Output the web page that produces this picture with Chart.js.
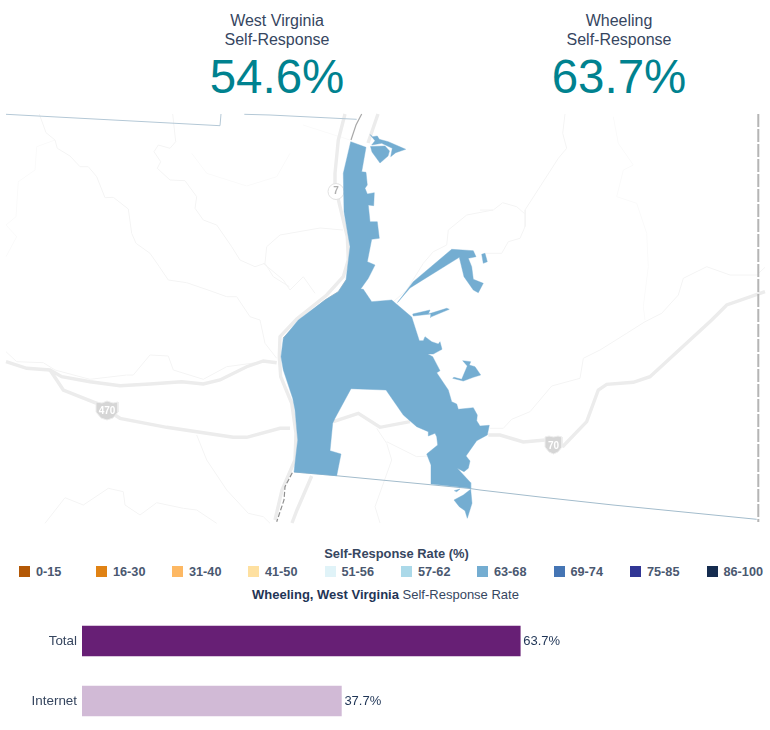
<!DOCTYPE html>
<html>
<head>
<meta charset="utf-8">
<title>Wheeling Self-Response</title>
<script src="https://cdn.jsdelivr.net/npm/chart.js@4"></script>
<style>
    html, body { margin: 0; padding: 0; background: #fff; overflow: hidden; }
    body { width: 770px; height: 730px; position: relative; font-family: "Liberation Sans", Arial, sans-serif; color: #36465f; }
    canvas { position: absolute; left: 0; display: block; }
    .stat { position: absolute; top: 11px; width: 300px; text-align: center; font-size: 16px; line-height: 19px; }
    .stat b { display: block; font-weight: 400; font-size: 47.5px; line-height: 56px; color: #00828f; }
    #legendTitle { position: absolute; top: 546px; left: 0; width: 793px; text-align: center; font-size: 12.9px; font-weight: 700; color: #36465f; }
    #legend { position: absolute; top: 565px; left: 0; width: 770px; height: 16px; }
    .key { position: absolute; top: 0; font-size: 12.7px; font-weight: 700; line-height: 14px; color: #4a5870; white-space: nowrap; }
    .key i { position: absolute; left: -17px; top: 1px; width: 11px; height: 11px; }
    #barTitle { position: absolute; top: 587px; left: 0; width: 771px; text-align: center; font-size: 13px; color: #36465f; }
    #barTitle b { color: #1f3556; }
</style>
</head>
<body>
<div class="stat" style="left:127px">West Virginia<br>Self-Response<b>54.6%</b></div>
<div class="stat" style="left:469px">Wheeling<br>Self-Response<b>63.7%</b></div>
<canvas id="mapChart" width="770" height="412" style="top:113px"></canvas>
<div id="legendTitle">Self-Response Rate (%)</div>
<div id="legend"></div>
<div id="barTitle"><b>Wheeling, West Virginia</b> Self-Response Rate</div>
<canvas id="barChart" width="770" height="120" style="top:611px"></canvas>
<script>
// ── BAR DATA ──
const barLabels = ['Total', 'Internet'];
const barValues = [63.7, 37.7];
const barColors = ['#671f75', '#d1bad6'];

// ── LEGEND DATA ──
const legendLabels = ['0-15', '16-30', '31-40', '41-50', '51-56', '57-62', '63-68', '69-74', '75-85', '86-100'];
const legendColors = ['#b35806', '#e08214', '#fdb863', '#fee0a0', '#e0f3f8', '#abd9e9', '#74add1', '#4575b4', '#313695', '#152c4f'];
const legendLefts = [36, 113, 189, 265, 341.5, 418, 494, 570.5, 647, 723.5];

// ── MAP DATA (projected map units) ──
const cityMain = [[350.7,141.7],[366,147.3],[361.7,171.7],[366,172.3],[367.3,185],[365,188.3],[367.3,194],[374.3,192.7],[373.7,205.7],[368.3,205],[370,221.7],[377.3,221.7],[379.3,238.3],[371.7,239.3],[367.3,261.7],[375,265],[368.3,278.3],[360.7,289],[363.3,289.3],[371.7,301.7],[391.7,300],[411.7,317],[419.3,340.7],[423.3,340.7],[425,336.7],[431.7,341.7],[438.3,344],[440,341.7],[442,349.3],[433.3,354],[427.7,354],[432.7,356.7],[440,370.7],[436.7,372.7],[448.3,390],[451.7,401.7],[456.7,404],[458.3,409.3],[473.3,407.7],[477.3,415],[476.7,420.7],[480,426],[489.3,425.3],[487.3,435],[476.7,440.7],[466,456],[470,461],[468.3,468.3],[464,471.7],[457.3,468.3],[470.7,482.7],[470.7,488.3],[431.7,484],[431,465],[426.7,454],[437.7,445],[436.7,436.7],[435,433.3],[428.3,436],[428.3,431.7],[416.7,426.7],[403.3,415],[386,390],[351,388.7],[335,418.3],[332.7,423.3],[330,450.7],[341,454],[336.7,475.7],[294,472],[297.7,440],[295,410],[292.7,398.3],[283.3,370],[281,356.7],[283.3,338.3],[298.3,320],[325,300],[338.3,291.7],[346,280],[350,246.7],[348.3,236.7],[344,211.7],[343.3,173.3]];
const cityNorthSliver = [[370,134.5],[372.7,136.7],[377.3,136],[379.3,139.3],[388.3,141.7],[405.7,149.3],[395.7,152.7],[390.7,156.7],[392.3,148.3],[381.7,143.3],[371.7,145],[375,140.7]];
const cityNorthBlob = [[370.5,146.5],[385,146],[389.5,151],[388,156],[380,163],[372,152]];
const cityBranch = [[397.5,302.5],[413.3,281.7],[451.7,249.3],[473.3,250.7],[476,256.7],[468.3,258.3],[471.7,266.7],[473.3,279.3],[483.3,283.3],[478.3,292.7],[473.3,290],[464,276.7],[459.3,257.3],[420,281.7],[410,288]];
const cityDot = [[481.7,254.3],[485,253.3],[487.3,261.7],[483.3,263.3]];
const citySliver = [[412.7,314],[430,310],[428.3,314],[446.7,308.3],[449.3,309.3],[430,317.3],[430.7,314],[413.3,316]];
const cityEastLobe = [[462.7,360.7],[470.7,361.7],[469.3,365],[475,366.7],[480.7,375],[473.3,377.3],[463.3,381],[452.7,378.3],[454,377.3],[461.7,379.3],[467.3,366]];
const citySouth = [[470.7,489.3],[472,503.3],[467.3,518.3],[465,510.7],[459.3,506.7],[454,500],[463.3,495]];
const citySouthTip = [[454.3,490.7],[460,489],[456.7,491.7]];
const cityParts = [cityMain, cityNorthSliver, cityNorthBlob, cityBranch, cityDot, citySliver, cityEastLobe, citySouth, citySouthTip];

const stateTop = [[6,114.3],[220,125.7],[221,114]];
const stateTopRight = [[244.3,114.3],[270,115],[356.7,119.3]];
const stateBottom = [[294,472],[336,475.7],[470,488.5],[480,490],[540,497],[613,505],[756.7,519.3]];
const stateEast = [[758.3,114],[758.3,522]];
const riverNorth = [[361.7,114],[356,125],[351,140]];
const riverMid = [[346,280],[338.3,291.7],[325,300],[301.7,319],[283,338]];
const riverSouth = [[292.3,472.7],[285,486.7],[284,500],[276.7,521.7]];

const route7 = [[345,114],[338.3,140],[335,173.3],[335,185],[340,206.7],[347.3,236.7],[348.3,260],[343.3,276.7],[326.7,295],[296.7,319],[280,336.7],[279.3,356.7],[280.7,376.7],[291.7,403.3],[296,433.3],[295,460],[282,490],[275,520]];
const routeSouth = [[311.7,476],[297,510],[292,523]];
const routeNorth = [[378,114],[368,143]];
const us40 = [[6,361.7],[26.7,368.3],[50,370],[61.7,376.7],[90,381.7],[120,385.7],[150,384],[181.7,381.7],[203.3,384],[220,380],[246.7,366.7],[263.3,361],[276.7,362.7]];
const i470 = [[50,370],[56.7,380],[63.3,390],[96.7,403.3],[120,418.3],[166.7,427.3],[206.7,433.3],[233.3,437.3],[246.7,437.3],[280,428.3],[290,428.3]];
const i470City = [[333.3,421.7],[358.3,413.3],[380,427.3],[410,421.7]];
const i70 = [[488.3,435],[500,435],[523.3,442],[545,440],[563.3,446],[586.7,421.7],[598.3,390],[606.7,384.3],[633.3,382.3],[650,376.7],[711.7,320],[726.7,305],[765,291.7]];
const highways = [route7, routeSouth, routeNorth, us40, i470, i470City, i70];

const minorRoads = [
    [[39.3,114],[46,132.7],[55,140],[57.3,148.3],[70,156],[80,166.7],[88.3,166.7],[96.7,176.7],[105,197.7],[113.3,197.3],[128.3,209],[131.7,233.3],[136,243.3],[150,253.3],[159.3,266.7],[168.3,280],[186.7,282.7],[210,290.7],[226.7,296.7],[236.7,296.7],[250,316.7],[260,320],[265,343.3],[276.7,358.3]],
    [[172.7,114],[175.7,141.7],[170,148.3],[158.3,145],[154,151.7],[160.7,161.7],[157.3,168.3],[170,180],[185,180.7],[196.7,196.7],[195,208.3],[203.3,220],[216.7,225],[231.7,246.7],[240,260],[255,266.7],[265,263.3],[273.3,276.7],[289.3,286.7]],
    [[6,351.7],[16.7,361.7],[43.3,362.7],[55,370],[80,376.7],[90,379.3],[126.7,375],[133.3,375],[150,355],[168.3,356],[173.3,370],[203.3,379.3],[226.7,366.7],[263.3,361.7]],
    [[45,523.3],[65,497.7],[83.3,505],[108.3,488.3],[123.3,491.7],[125,505],[140,515],[156.7,502.7],[183.3,508.3],[196.7,510],[216.7,523.3]],
    [[196.7,435],[206.7,460],[226.7,490],[248.3,513.3],[263.3,516.7],[270,523.3]],
    [[490,428.3],[503.3,428.3],[511.7,419.3],[530,411.7],[551.7,386],[580,378.3],[583.3,358.3],[600,350],[626.7,333.3],[645,321.7],[661.7,313.3],[678.3,295],[683.3,278.3],[706.7,266.7],[730,275],[756.7,275],[765,267.3]],
    [[565,114],[562.7,133.3],[566.7,148.3],[558.3,158.3],[525,210],[525,226.7],[520,238.3],[508.3,241.7],[501.7,253.3],[485,253.3]],
    [[480,210],[493.3,210],[502.7,202.7],[516.7,206.7],[525,214]],
    [[493,210],[466.7,215],[448.3,230],[446.7,245],[433.3,251.7],[423.3,263.3],[406.7,290],[393.3,301.7]],
    [[376.7,428.3],[386.7,443.3],[391.7,460],[375,506.7],[380,523]],
    [[386.7,441.7],[416.7,456.7],[428,456]],
    [[263.3,263.3],[283.3,280],[290,290],[303.3,276.7],[315,293.3]],
    [[265,263],[266.7,246.7],[280,235],[320,228],[343,230]]
];
const faintRoads = [
    [[55,140],[36.7,146.7],[35,170],[18.3,181.7],[16,216.7],[6,225],[16.7,236.7],[6,256.7]],
    [[613.3,116.7],[618.3,143.3],[633.3,165],[623.3,170],[616.7,196.7],[636.7,203.3],[646.7,233.3],[648.3,266.7],[643.3,306.7],[645,320]],
    [[191.7,153.3],[206.7,173.3],[246.7,186],[276.7,176.7],[290,153.3]],
    [[303,125],[350,140]]
];

const shield470 = [[96,402],[102,403],[107,401],[113,403],[118,402],[118,412],[113,418],[107,420],[101,418],[96,412]];
const shield70 = [[545,437],[549,436],[553.5,437],[558,436],[562,437],[562,447],[558,452],[553.5,454],[549,452],[545,447]];
const shieldText = ['470', '70', '7'];
const shieldSpots = [[107,411],[553.5,446],[336,191.5]];
const route7Spot = [[336,191.5]];

// ── MAP CHART ──
const toPoints = pts => pts.map(([x, y]) => ({ x, y }));
function polyline(pts, color, width, order, dash) {
    return { data: toPoints(pts), showLine: true, fill: false, borderColor: color, borderWidth: width, borderDash: dash || [], pointRadius: 0, tension: 0, order };
}
function polygon(pts, color, edge, order) {
    const closed = pts.concat([pts[0]]);
    return { data: toPoints(closed), showLine: true, fill: 'shape', backgroundColor: color, borderColor: edge, borderWidth: 1, pointRadius: 0, tension: 0, order };
}

const mapDatasets = [
    ...faintRoads.map(r => polyline(r, '#fafafa', 1, 9)),
    ...minorRoads.map(r => polyline(r, '#f4f4f4', 1, 8)),
    ...highways.map(r => polyline(r, '#ececec', 3.4, 7)),
    polyline(riverNorth, '#a8a8a8', 1.2, 6),
    polyline(riverMid, '#c4c4c4', 1, 6),
    polyline(riverSouth, '#8f8f8f', 1.2, 6, [5, 2]),
    polyline(stateTop, '#b4c8d6', 1, 5),
    polyline(stateTopRight, '#b4c8d6', 1, 5),
    polyline(stateBottom, '#a3bccc', 1, 5),
    polyline(stateEast, '#b5b5b5', 2, 5, [13, 2]),
    polygon(shield470, '#d6d6d6', '#eeeeee', 4),
    polygon(shield70, '#d6d6d6', '#eeeeee', 4),
    { data: toPoints(route7Spot), pointRadius: 8, pointBackgroundColor: '#ffffff', pointBorderColor: '#e2e2e2', pointBorderWidth: 1, showLine: false, order: 4 },
    ...cityParts.map(p => polygon(p, '#74add1', 'rgba(116,173,209,0.4)', 1))
];

const shieldLabelPlugin = {
    id: 'shieldLabels',
    afterDatasetsDraw(chart) {
        const { ctx, scales: { x, y } } = chart;
        ctx.save();
        ctx.textAlign = 'center';
        ctx.textBaseline = 'middle';
        shieldText.forEach((txt, i) => {
            const [sx, sy] = shieldSpots[i];
            ctx.font = '700 10px "Liberation Sans", Arial, sans-serif';
            ctx.fillStyle = txt === '7' ? '#b0b0b0' : '#ffffff';
            ctx.fillText(txt, x.getPixelForValue(sx), y.getPixelForValue(sy));
        });
        ctx.restore();
    }
};

new Chart(document.getElementById('mapChart'), {
    type: 'scatter',
    data: { datasets: mapDatasets },
    plugins: [shieldLabelPlugin],
    options: {
        responsive: false, animation: false, devicePixelRatio: 1,
        layout: { padding: 0, autoPadding: false },
        plugins: { legend: { display: false }, tooltip: { enabled: false } },
        scales: {
            x: { type: 'linear', display: false, min: 0, max: 770 },
            y: { type: 'linear', display: false, min: 113, max: 525, reverse: true }
        }
    }
});

// ── LEGEND ──
document.getElementById('legend').innerHTML = legendLabels.map((lbl, i) =>
    `<div class="key" style="left:${legendLefts[i]}px"><i style="background:${legendColors[i]}"></i>${lbl}</div>`).join('');

// ── BAR CHART ──
const barValuePlugin = {
    id: 'barValues',
    afterDatasetsDraw(chart) {
        const { ctx } = chart;
        ctx.save();
        ctx.font = '13px "Liberation Sans", Arial, sans-serif';
        ctx.fillStyle = '#1f3556';
        ctx.textBaseline = 'middle';
        chart.getDatasetMeta(0).data.forEach((bar, i) => ctx.fillText(barValues[i].toFixed(1) + '%', bar.x + 3, bar.y));
        ctx.restore();
    }
};

new Chart(document.getElementById('barChart'), {
    type: 'bar',
    data: { labels: barLabels, datasets: [{ data: barValues, backgroundColor: barColors, barThickness: 30 }] },
    plugins: [barValuePlugin],
    options: {
        indexAxis: 'y',
        responsive: false, animation: false, devicePixelRatio: 1,
        layout: { padding: 0, autoPadding: false },
        plugins: { legend: { display: false }, tooltip: { enabled: false } },
        scales: {
            x: { display: false, min: 0, max: 100 },
            y: {
                grid: { display: false, drawTicks: false, tickLength: 0 }, border: { display: false },
                // tick labels would otherwise pad the band and pull the bars together
                afterFit: s => { s.width = 82; s.paddingTop = 0; s.paddingBottom = 0; },
                ticks: { color: '#36465f', padding: 5, font: { size: 13.4, family: '"Liberation Sans", Arial, sans-serif' } }
            }
        }
    }
});
</script>
</body>
</html>
